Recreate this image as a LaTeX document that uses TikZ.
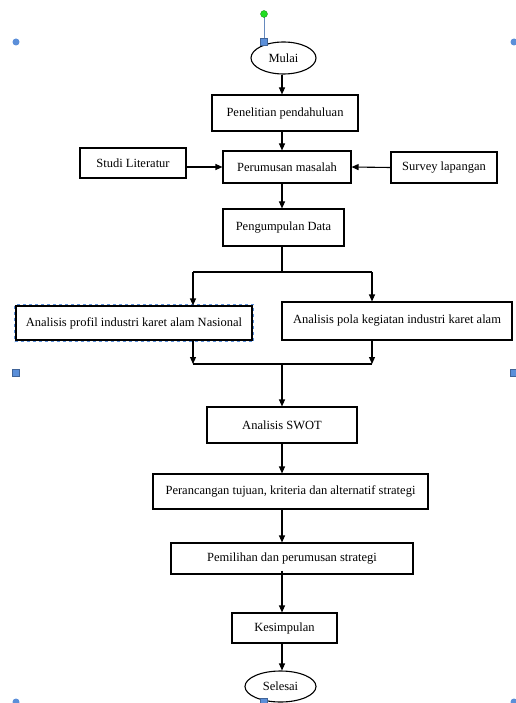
\documentclass[tikz,border=0pt]{standalone}
\usepackage{fontspec}
\setmainfont{Liberation Serif}
\usetikzlibrary{shapes.geometric,arrows.meta}
\definecolor{handle}{HTML}{5B8FD9}
\definecolor{rot}{HTML}{22DD22}
\begin{document}
\begin{tikzpicture}[x=1pt,y=-1pt,
  every node/.style={font=\fontsize{12.5}{14}\selectfont, inner sep=0pt},
  box/.style={draw, line width=1.1pt, rectangle, fill=white},
  term/.style={draw, line width=1.1pt, ellipse, fill=white},
  arr/.style={line width=1.1pt, -{Triangle[length=7pt,width=6pt]}},
  ln/.style={line width=1.1pt},
  hcirc/.style={circle, fill=handle, minimum size=7pt},
  hsq/.style={rectangle, fill=handle, draw=handle!70!black, line width=0.3pt, minimum size=7pt}]
\useasboundingbox (0,0) rectangle (515,703);

% selection handles
\draw[handle!70!gray, line width=0.8pt] (264,14) -- (264,42);
\node[circle, fill=rot, draw=rot!60!black, line width=0.3pt, minimum size=7pt] (hrot) at (264,14) {};
\node[hcirc] (h1) at (16,42) {};
\node[hcirc] (h2) at (514,42) {};
\node[hcirc] (h3) at (16,702) {};
\node[hcirc] (h4) at (514,702) {};
\node[hsq] (h5) at (16,373) {};
\node[hsq] (h6) at (514,373) {};

% nodes
\node[term, minimum width=65pt, minimum height=32pt] (mulai) at (283.5,58) {Mulai};
\node[hsq] (h7) at (264,42) {};
\node[box, minimum width=146pt, minimum height=36pt] (pen) at (285,113) {Penelitian pendahuluan};
\node[box, minimum width=106pt, minimum height=30pt] (studi) at (133,163) {Studi Literatur};
\node[box, minimum width=128pt, minimum height=32pt] (perum) at (287,167) {Perumusan masalah};
\node[box, minimum width=106pt, minimum height=31pt] (survey) at (444,167.5) {Survey lapangan};
\node[box, minimum width=121pt, minimum height=37pt] (pengum) at (283.5,227.5) {Pengumpulan Data};
\node[draw=handle, dashed, line width=0.6pt, minimum width=239pt, minimum height=37pt] (sel) at (134,323) {};
\node[box, minimum width=236pt, minimum height=34pt] (profil) at (134,323) {Analisis profil industri karet alam Nasional};
\node[box, minimum width=230pt, minimum height=38pt] (pola) at (397,321) {\raisebox{2pt}{Analisis pola kegiatan industri karet alam}};
\node[box, minimum width=150pt, minimum height=36pt] (swot) at (282,425) {Analisis SWOT};
\node[box, minimum width=275pt, minimum height=35pt] (peranc) at (290.5,491.5) {Perancangan tujuan, kriteria dan alternatif strategi};
\node[box, minimum width=242pt, minimum height=31pt] (pemil) at (292,558.5) {Pemilihan dan perumusan strategi};
\node[box, minimum width=105pt, minimum height=30pt] (kesim) at (284.5,628) {Kesimpulan};
\node[term, minimum width=71pt, minimum height=31pt] (selesai) at (280.5,686.5) {Selesai};
\node[hsq] (h8) at (264,702) {};

% axis and branch points
\coordinate (ax) at (282,0);
\coordinate (sL) at (193,272);
\coordinate (sR) at (372,272);
\coordinate (jL) at (193,364);
\coordinate (jR) at (372,364);
\coordinate (jM) at (282,364);

% connectors
\draw[arr] (mulai.south -| ax) -- (pen.north -| ax);
\draw[arr] (pen.south -| ax) -- (perum.north -| ax);
\draw[arr] (studi.east |- perum.west) -- (perum.west);
\draw[arr] (survey.west) -- (perum.east);
\draw[arr] (perum.south -| ax) -- (pengum.north -| ax);
\draw[ln] (pengum.south -| ax) -- (sL -| ax);
\draw[ln] (sL) -- (sR);
\draw[arr] (sL) -- (sL |- profil.north);
\draw[arr] (sR) -- (sR |- pola.north);
\draw[arr] (sL |- profil.south) -- (jL);
\draw[arr] (sR |- pola.south) -- (jR);
\draw[ln] (jL) -- (jR);
\draw[arr] (jM) -- (jM |- swot.north);
\draw[arr] (swot.south -| ax) -- (peranc.north -| ax);
\draw[arr] (peranc.south -| ax) -- (pemil.north -| ax);
\draw[arr] ([yshift=4pt]pemil.south -| ax) -- (kesim.north -| ax);
\draw[arr] (kesim.south -| ax) -- (selesai.north -| ax);
\end{tikzpicture}
\end{document}
